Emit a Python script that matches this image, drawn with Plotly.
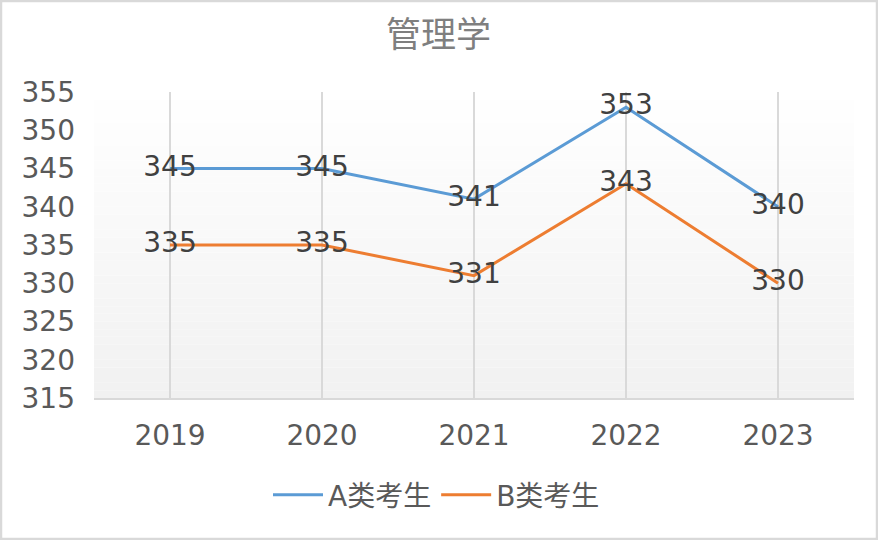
import plotly.graph_objects as go

years = ["2019", "2020", "2021", "2022", "2023"]
series_a = [345, 345, 341, 353, 340]
series_b = [335, 335, 331, 343, 330]
name_a = "A类考生"
name_b = "B类考生"
y_ticks = [315, 320, 325, 330, 335, 340, 345, 350, 355]
title = "管理学"

W, H = 878, 540
L, R, T, B = 94, 24, 92, 142
pw, ph = W - L - R, H - T - B

FONT = "DejaVu Sans, Noto Sans CJK SC, sans-serif"
CJK = "Noto Sans CJK SC, sans-serif"

fig = go.Figure()
fig.add_trace(go.Scatter(x=years, y=series_a, name=name_a, mode="lines+text",
                         line=dict(color="#5b9bd5", width=3),
                         text=[str(v) for v in series_a], textposition="middle center",
                         textfont=dict(size=28, color="#404040", family=FONT)))
fig.add_trace(go.Scatter(x=years, y=series_b, name=name_b, mode="lines+text",
                         line=dict(color="#ed7d31", width=3),
                         text=[str(v) for v in series_b], textposition="middle center",
                         textfont=dict(size=28, color="#404040", family=FONT)))

shapes = []
# vertical gradient background in plot area
n = 40
for i in range(n):
    y0 = i / n
    y1 = (i + 1) / n
    t = 1 - (i + 0.5) / n  # 1 at bottom -> 0 at top
    v = int(round(255 - 14 * t))
    shapes.append(dict(type="rect", xref="paper", yref="paper", x0=0, x1=1, y0=y0, y1=y1,
                       fillcolor=f"rgb({v},{v},{v})", line=dict(width=0), layer="below"))

# outer border
x0 = -(L - 1) / pw
x1 = 1 + (R - 1) / pw
y0 = -(B - 1) / ph
y1 = 1 + (T - 1) / ph
shapes.append(dict(type="rect", xref="paper", yref="paper", x0=x0, x1=x1, y0=y0, y1=y1,
                   line=dict(color="#d9d9d9", width=2.5)))

fig.update_layout(
    width=W, height=H,
    margin=dict(l=L, r=R, t=T, b=B, autoexpand=False),
    paper_bgcolor="white", plot_bgcolor="rgba(0,0,0,0)",
    shapes=shapes,
    title=dict(text=title, x=(438.5 - L) / pw, xref="paper", xanchor="center", y=1 - 35 / H, yanchor="middle",
               font=dict(size=35, color="#7f7f7f", family=CJK)),
    showlegend=True,
    legend=dict(orientation="h", x=(436.5 - L) / pw, xanchor="center", xref="paper",
                y=-(495 - 398) / ph, yanchor="middle",
                font=dict(size=28, color="#595959", family=FONT),
                itemwidth=50, traceorder="normal"),
    xaxis=dict(type="category", range=[-0.5, 4.5], showgrid=True, gridcolor="#d9d9d9", gridwidth=1.5,
               showline=True, linecolor="#d9d9d9", linewidth=1.5, ticks="",
               tickfont=dict(size=28, color="#595959", family=FONT), ticklabelstandoff=12,
               zeroline=False, fixedrange=True),
    yaxis=dict(range=[315, 355], tickvals=y_ticks, showgrid=False, showline=False, zeroline=False,
               ticks="", tickfont=dict(size=28, color="#595959", family=FONT),
               ticklabelstandoff=18, fixedrange=True),
)

fig.write_html("out.html", config={"displayModeBar": False},
               post_script="document.body.style.margin='0';")
